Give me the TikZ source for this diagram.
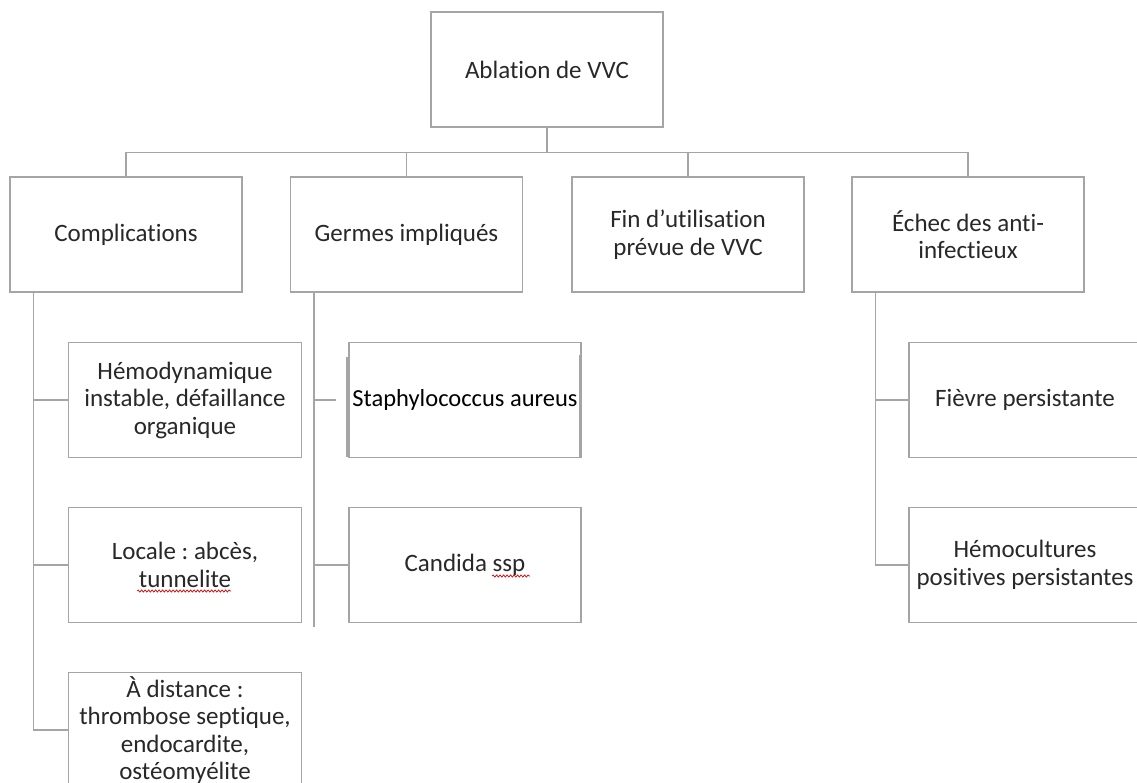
\documentclass[tikz,border=0pt]{standalone}
\usepackage{fontspec}
\setmainfont{Carlito}[Ligatures={NoCommon,NoContextual,NoRequired}]
\usetikzlibrary{decorations.pathmorphing}
\definecolor{linegray}{RGB}{165,165,165}
\definecolor{txtgray}{RGB}{40,40,40}
\frenchspacing
\begin{document}
\begin{tikzpicture}[x=1pt,y=-1pt,
  box/.style={draw=linegray,line width=1.4pt,fill=white,minimum width=232pt,minimum height=115pt,inner sep=0pt,align=center,text=txtgray,font=\fontsize{25}{27.5}\selectfont},
  conn/.style={draw=linegray,line width=1.4pt},
  artefact/.style={draw=linegray,line width=2.6pt},
  squig/.style={draw=red!85!black,line width=0.7pt,decorate,decoration={snake,amplitude=1.1pt,segment length=3.5pt}}]
\useasboundingbox (0,0) rectangle (1137,783);
\clip (0,0) rectangle (1137,783);
\fill[white] (0,0) rectangle (1137,783);
% level 0
\node[box] (top) at (547,69.5) {Ablation de VVC};
% level 1
\node[box] (c1) at (126,234.5) {Complications};
\node[box] (c2) at (406.5,234.5) {Germes impliqués};
\node[box] (c3) at (688,234.5) {Fin d’utilisation\\prévue de VVC};
\node[box] (c4) at (968,234.5) {Échec des anti-\\infectieux};
% complications
\node[box,minimum width=233pt] (k1) at (185,400) {Hémodynamique\\instable, défaillance\\organique};
\node[box,minimum width=233pt] (k2) at (185,565) {Locale : abcès,\\tunnelite};
\node[box,minimum width=233pt] (k3) at (185,730) {À distance :\\thrombose septique,\\endocardite,\\ostéomyélite};
% germes
\node[box,text=black,font=\fontsize{24.5}{27.5}\selectfont] (g1) at (465,400) {Staphylococcus aureus};
\node[box] (g2) at (465,565) {Candida ssp};
% echec
\node[box] (r1) at (1025,400) {Fièvre persistante};
\node[box] (r2) at (1025,565) {Hémocultures\\positives persistantes};
% bus
\draw[conn] (top.south) -- ++(0,25) coordinate (j);
\draw[conn] (c1.north) |- (j) -| (c4.north);
\draw[conn] (c2.north) -- (c2.north |- j);
\draw[conn] (c3.north) -- (c3.north |- j);
% complication branch
\coordinate (s1) at ([xshift=24pt]c1.south west);
\draw[conn] (s1) |- (k3.west);
\draw[conn] (s1 |- k1.west) -- (k1.west);
\draw[conn] (s1 |- k2.west) -- (k2.west);
% germes branch
\coordinate (s2) at ([xshift=24pt]c2.south west);
\coordinate (s2end) at (314,627);
\draw[conn] (s2) -- (s2 |- s2end);
\coordinate (g1stub) at (336,400);
\draw[conn] (s2 |- g1.west) -- (g1stub);
\draw[conn] (s2 |- g2.west) -- (g2.west);
% echec branch
\coordinate (s4) at ([xshift=24pt]c4.south west);
\draw[conn] (s4) |- (r2.west);
\draw[conn] (s4 |- r1.west) -- (r1.west);
% artefacts on the Staphylococcus box
\draw[artefact] (347,357) -- (347,457);
\draw[artefact] (580,355) -- (580,457);
% spell-check marks
\draw[squig] (137,591) -- (231,591);
\draw[squig] (492,576) -- (530,576);
\end{tikzpicture}
\end{document}
